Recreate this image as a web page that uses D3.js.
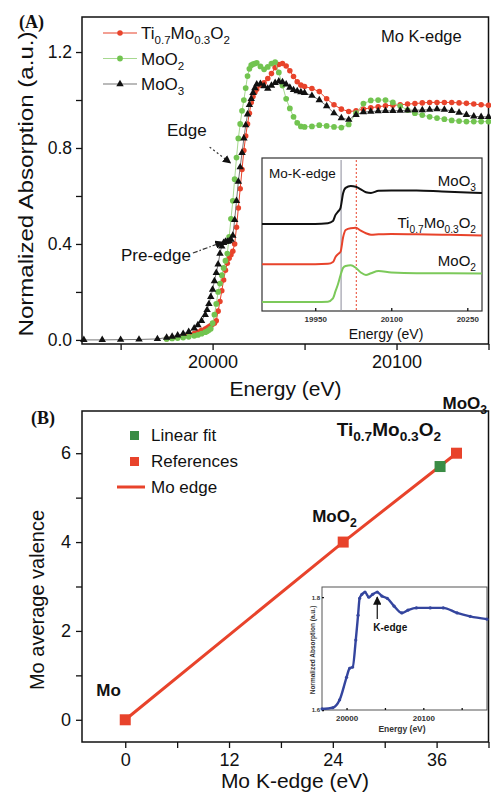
<!DOCTYPE html>
<html>
  <head>
    <meta charset="utf-8" />
    <title>Mo K-edge XANES</title>
    <script src="https://d3js.org/d3.v7.min.js"></script>
    <style>
      body { margin: 0; background: #fff; }
      svg { display: block; }
    </style>
  </head>
  <body>
    <svg id="chart" width="491" height="795"></svg>
    <script>
      // ---------- data : panel A (XANES spectra) ----------
      const energy = [19930, 19940, 19950, 19960, 19970,
        19975, 19978, 19981, 19984, 19987, 19990, 19992, 19994,
        19996, 19997, 19998, 19999, 20000, 20001, 20002, 20003, 20004, 20005, 20006, 20007,
        20008, 20009, 20010, 20011, 20012, 20013, 20014, 20015, 20016, 20017, 20018, 20019,
        20020, 20021, 20022, 20023, 20024,
        20026, 20028, 20030, 20032, 20034, 20036, 20038, 20040, 20042, 20044, 20046, 20048, 20050,
        20054, 20058, 20062, 20066, 20070, 20074, 20078, 20082, 20086, 20090, 20094, 20098,
        20102, 20106, 20110, 20114, 20118, 20122, 20126, 20130, 20134, 20138, 20142, 20146, 20150];

      const absTiMo = [null, null, null, null, null,
        0.005, 0.008, 0.011, 0.015, 0.020, 0.027, 0.033, 0.040,
        0.045, 0.050, 0.055, 0.060, 0.065, 0.070, 0.080, 0.120, 0.160, 0.205, 0.250, 0.290,
        0.320, 0.340, 0.355, 0.370, 0.400, 0.470, 0.550, 0.630, 0.710, 0.790, 0.850, 0.900,
        0.945, 0.990, 1.015, 1.032, 1.045,
        1.062, 1.072, 1.090, 1.110, 1.135, 1.148, 1.152, 1.142, 1.122, 1.098, 1.076, 1.062, 1.056,
        1.048, 1.035, 1.005, 0.980, 0.962, 0.952, 0.955, 0.962, 0.968, 0.972, 0.976, 0.978,
        0.980, 0.983, 0.985, 0.988, 0.990, 0.990, 0.990, 0.990, 0.988, 0.986, 0.983, 0.980, 0.978];

      const absMoO2 = [null, null, null, null, null,
        0.004, 0.006, 0.008, 0.010, 0.013, 0.017, 0.021, 0.026,
        0.032, 0.036, 0.041, 0.047, 0.070, 0.105, 0.150, 0.200, 0.235, 0.270, 0.300, 0.330,
        0.360, 0.430, 0.505, 0.580, 0.670, 0.760, 0.840, 0.900, 0.955, 1.000, 1.050, 1.100,
        1.130, 1.145, 1.150, 1.152, 1.155,
        1.140, 1.128, 1.138, 1.152, 1.158, 1.115, 1.060, 1.005, 0.965, 0.930, 0.905, 0.890, 0.888,
        0.890, 0.895, 0.892, 0.888, 0.885, 0.898, 0.945, 0.985, 0.998, 1.000, 1.000, 0.990,
        0.975, 0.958, 0.945, 0.937, 0.930, 0.925, 0.920, 0.915, 0.912, 0.910, 0.910, 0.910, 0.910];

      const absMoO3 = [0.000, 0.000, 0.001, 0.002, 0.004,
        0.010, 0.014, 0.019, 0.026, 0.034, 0.048, 0.062, 0.080,
        0.105, 0.125, 0.150, 0.180, 0.210, 0.245, 0.280, 0.315, 0.360, 0.390, 0.405, 0.410,
        0.410, 0.412, 0.418, 0.435, 0.500, 0.580, 0.660, 0.720, 0.780, 0.840, 0.895, 0.940,
        0.980, 1.005, 1.030, 1.050, 1.065,
        1.068, 1.058, 1.048, 1.060, 1.072, 1.078, 1.075, 1.065, 1.052, 1.042, 1.037, 1.033, 1.030,
        1.018, 1.000, 0.975, 0.945, 0.925, 0.918, 0.938, 0.950, 0.952, 0.954, 0.955, 0.955,
        0.956, 0.957, 0.958, 0.958, 0.960, 0.962, 0.960, 0.955, 0.948, 0.938, 0.932, 0.930, 0.930];

      const xTicksA = [20000, 20100];
      const xMinorA = [19950, 20050, 20150];
      const yTicksA = [0, 0.4, 0.8, 1.2];
      const yMinorA = [0.2, 0.6, 1.0];

      // inset of panel A (stacked, normalised spectra)
      const insetEnergy = [19845, 19900, 19950, 19975, 19985, 19990, 19995, 20000, 20005, 20010,
        20020, 20030, 20040, 20050, 20060, 20075, 20100, 20150, 20200, 20279];
      const insetMoO3 = [0, 0, 0, 0.02, 0.08, 0.25, 0.34, 0.45, 0.85, 1.0,
        1.05, 1.03, 0.96, 0.88, 0.86, 0.92, 0.93, 0.93, 0.90, 0.86];
      const insetTiMo = [0, 0, 0, 0.01, 0.06, 0.20, 0.28, 0.35, 0.75, 0.95,
        1.0, 1.01, 0.93, 0.86, 0.82, 0.83, 0.84, 0.83, 0.82, 0.80];
      const insetMoO2 = [0, 0, 0, 0.01, 0.10, 0.30, 0.50, 0.75, 0.95, 1.0,
        1.02, 0.95, 0.82, 0.75, 0.80, 0.86, 0.82, 0.80, 0.80, 0.79];
      const insetOffsets = [2.17, 1.05, 0]; // MoO3, Ti0.7Mo0.3O2, MoO2
      const insetTicks = [19950, 20100, 20250];
      const insetGuides = [20001, 20031];

      // ---------- data : panel B (valence vs edge shift) ----------
      const refNames = ["Mo", "MoO2", "MoO3"];
      const refShift = [0, 25.2, 38.3];
      const refValence = [0, 4, 6];
      const fitShift = [36.4];
      const fitValence = [5.7];
      const xTicksB = [0, 12, 24, 36];
      const xMinorB = [6, 18, 30, 42];
      const yTicksB = [0, 2, 4, 6];
      const yMinorB = [1, 3, 5];

      // inset of panel B (spectrum of Ti0.7Mo0.3O2)
      const specEnergy = [19968, 19982, 19991, 20000, 20004, 20008, 20012, 20015, 20017, 20020,
        20024, 20029, 20034, 20040, 20046, 20053, 20062, 20072, 20080, 20091,
        20109, 20126, 20144, 20161, 20183];
      const specAbs = [1.602, 1.604, 1.618, 1.658, 1.674, 1.676, 1.724, 1.768, 1.798, 1.805,
        1.809, 1.800, 1.805, 1.809, 1.802, 1.798, 1.784, 1.772, 1.777, 1.781,
        1.781, 1.781, 1.772, 1.766, 1.761];
      const specTicks = [20000, 20100];
      const specMinor = [20050, 20150];

      // chemical names as [element, subscript] pairs
      const nameTiMo = [["Ti", "0.7"], ["Mo", "0.3"], ["O", "2"]];
      const nameMoO2 = [["MoO", "2"]];
      const nameMoO3 = [["MoO", "3"]];
      const nameMo = [["Mo", ""]];

      // ---------- helpers ----------
      const SANS = "'Liberation Sans', Arial, Helvetica, sans-serif";
      const RED = "#e8432b";
      const GREEN = "#72c450";
      const BLACK = "#111";

      const svg = d3.select("#chart").attr("font-family", SANS);

      function addFormula(text, parts, size, subScale = 0.68) {
        const shift = size * 0.3;
        let down = 0;
        parts.forEach(([base, sub]) => {
          text.append("tspan").attr("dy", -down).attr("font-size", size).text(base);
          down = 0;
          if (sub) {
            text.append("tspan").attr("dy", shift).attr("font-size", size * subScale).text(sub);
            down = shift;
          }
        });
        return text;
      }

      function styleAxis(g, size) {
        g.select(".domain").remove();
        g.selectAll(".tick line").attr("stroke", BLACK).attr("stroke-width", 1.3);
        g.selectAll(".tick text").attr("fill", BLACK).attr("font-size", size).attr("font-family", SANS);
      }

      // arrowhead marker
      svg.append("defs").append("marker")
        .attr("id", "arrow")
        .attr("viewBox", "0 0 10 10")
        .attr("refX", 9).attr("refY", 5)
        .attr("markerWidth", 7).attr("markerHeight", 7)
        .attr("orient", "auto-start-reverse")
        .append("path").attr("d", "M0,0 L10,5 L0,10 Z").attr("fill", BLACK);

      // ======================= PANEL A =======================
      const xA = d3.scaleLinear().domain([19929, 20150]).range([82, 488.5]);
      const yA = d3.scaleLinear().domain([-0.017, 1.346]).range([344, 17]);
      const gA = svg.append("g");

      gA.append("g").attr("transform", `translate(0,${yA.range()[0]})`)
        .call(d3.axisBottom(xA).tickValues(xTicksA).tickFormat(d3.format("d")).tickSize(6).tickPadding(5))
        .call((g) => styleAxis(g, 18));
      gA.append("g").attr("transform", `translate(0,${yA.range()[0]})`)
        .call(d3.axisBottom(xA).tickValues(xMinorA).tickFormat("").tickSize(6))
        .call((g) => styleAxis(g, 18));
      gA.append("g").attr("transform", `translate(${xA.range()[0]},0)`)
        .call(d3.axisLeft(yA).tickValues(yTicksA).tickFormat(d3.format(".1f")).tickSize(6).tickPadding(4))
        .call((g) => styleAxis(g, 17.5));
      gA.append("g").attr("transform", `translate(${xA.range()[0]},0)`)
        .call(d3.axisLeft(yA).tickValues(yMinorA).tickFormat("").tickSize(6))
        .call((g) => styleAxis(g, 17.5));

      gA.append("rect")
        .attr("x", xA.range()[0]).attr("y", yA.range()[1])
        .attr("width", xA.range()[1] - xA.range()[0])
        .attr("height", yA.range()[0] - yA.range()[1])
        .attr("fill", "none").attr("stroke", BLACK).attr("stroke-width", 1.5);

      const seriesA = [
        { name: nameTiMo, values: absTiMo, color: RED, line: RED, symbol: d3.symbolCircle, size: 24 },
        { name: nameMoO2, values: absMoO2, color: GREEN, line: "#a6d88f", symbol: d3.symbolCircle, size: 26 },
        { name: nameMoO3, values: absMoO3, color: BLACK, line: "#777", symbol: d3.symbolTriangle, size: 24 },
      ];

      const lineA = d3.line().x((d) => xA(d[0])).y((d) => yA(d[1]));

      seriesA.forEach((s) => {
        const pts = energy.map((e, i) => [e, s.values[i]]).filter((d) => d[1] != null);
        gA.append("path").datum(pts)
          .attr("fill", "none").attr("stroke", s.line).attr("stroke-width", 1)
          .attr("d", lineA);
        gA.append("g").selectAll("path").data(pts).join("path")
          .attr("transform", (d) => `translate(${xA(d[0])},${yA(d[1])})`)
          .attr("d", d3.symbol(s.symbol, s.size))
          .attr("fill", s.color);
      });

      // legend A
      seriesA.forEach((s, i) => {
        const y = 33 + i * 25.5;
        gA.append("line").attr("x1", 103).attr("x2", 137).attr("y1", y).attr("y2", y)
          .attr("stroke", s.line).attr("stroke-width", 1.2);
        gA.append("path").attr("transform", `translate(120,${y})`)
          .attr("d", d3.symbol(s.symbol, s.size)).attr("fill", s.color);
        addFormula(gA.append("text").attr("x", 141).attr("y", y + 6).attr("fill", BLACK), s.name, 17);
      });

      gA.append("text").attr("x", 381).attr("y", 42).attr("font-size", 16.5)
        .attr("fill", BLACK).text("Mo K-edge");

      // annotations : arrow tips in data units
      const notes = [
        { text: "Edge", tip: [20009.8, 0.737], dx: -21, dy: -16, dash: "2,2.5", tx: -3, ty: -11 },
        { text: "Pre-edge", tip: [20005.6, 0.408], dx: -30, dy: 11, dash: "5,2,1.5,2", tx: -2, ty: 8 },
      ];
      notes.forEach((n) => {
        const x2 = xA(n.tip[0]), y2 = yA(n.tip[1]);
        const x1 = x2 + n.dx, y1 = y2 + n.dy;
        gA.append("line").attr("x1", x1).attr("y1", y1).attr("x2", x2).attr("y2", y2)
          .attr("stroke", "#333").attr("stroke-width", 1.2)
          .attr("stroke-dasharray", n.dash).attr("marker-end", "url(#arrow)");
        gA.append("text").attr("x", x1 + n.tx).attr("y", y1 + n.ty)
          .attr("text-anchor", "end").attr("font-size", 17).attr("fill", BLACK).text(n.text);
      });

      // axis titles A
      gA.append("text").attr("x", 285.5).attr("y", 396).attr("text-anchor", "middle")
        .attr("font-size", 21).attr("fill", BLACK).text("Energy (eV)");
      gA.append("text").attr("transform", "translate(33,184) rotate(-90)")
        .attr("text-anchor", "middle").attr("font-size", 21)
        .attr("textLength", 305).attr("lengthAdjust", "spacingAndGlyphs")
        .attr("fill", BLACK).text("Normalized Absorption (a.u.)");
      gA.append("text").attr("x", 19).attr("y", 28).attr("font-family", "'Liberation Serif', 'Times New Roman', serif")
        .attr("font-weight", "bold").attr("font-size", 18).attr("fill", BLACK).text("(A)");

      // ---------- inset A ----------
      const xIn = d3.scaleLinear().domain([19845, 20279]).range([262, 482]);
      const yIn = d3.scaleLinear().domain([-0.25, 4.0]).range([311, 158]);
      const gI = svg.append("g");
      gI.append("rect").attr("x", 262).attr("y", 158).attr("width", 220).attr("height", 153)
        .attr("fill", "#fff").attr("stroke", "#333").attr("stroke-width", 1.2);

      gI.append("g").attr("transform", `translate(0,${yIn.range()[0]})`)
        .call(d3.axisBottom(xIn).tickValues(insetTicks).tickFormat(d3.format("d")).tickSize(-3).tickPadding(5))
        .call((g) => styleAxis(g, 8))
        .call((g) => g.selectAll(".tick text").attr("font-weight", "bold").attr("fill", "#333"));

      gI.selectAll(".guide").data(insetGuides).join("line")
        .attr("x1", (d) => xIn(d)).attr("x2", (d) => xIn(d))
        .attr("y1", yIn.range()[1] + 2).attr("y2", yIn.range()[0])
        .attr("stroke", (d, i) => (i === 0 ? "#8a8a9a" : RED))
        .attr("stroke-width", 1)
        .attr("stroke-dasharray", (d, i) => (i === 0 ? null : "2,2"));

      const insetSeries = [
        { values: insetMoO3, color: BLACK, name: nameMoO3, offset: insetOffsets[0], label: 186 },
        { values: insetTiMo, color: RED, name: nameTiMo, offset: insetOffsets[1], label: 228 },
        { values: insetMoO2, color: "#7cc95a", name: nameMoO2, offset: insetOffsets[2], label: 266 },
      ];
      const lineIn = d3.line().x((d) => xIn(d[0])).y((d) => yIn(d[1])).curve(d3.curveMonotoneX);
      insetSeries.forEach((s) => {
        const pts = insetEnergy.map((e, i) => [e, s.values[i] + s.offset]);
        gI.append("path").datum(pts).attr("fill", "none").attr("stroke", s.color)
          .attr("stroke-width", 2).attr("d", lineIn);
        addFormula(gI.append("text").attr("x", 476).attr("y", s.label)
          .attr("text-anchor", "end").attr("fill", BLACK), s.name, 15);
      });
      gI.append("text").attr("x", 269).attr("y", 178).attr("font-size", 13.5).attr("fill", BLACK)
        .text("Mo-K-edge");
      gI.append("text").attr("x", 386).attr("y", 339).attr("text-anchor", "middle")
        .attr("font-size", 14).attr("fill", BLACK).text("Energy (eV)");

      // ======================= PANEL B =======================
      const xB = d3.scaleLinear().domain([-5, 42]).range([82, 488.5]);
      const yB = d3.scaleLinear().domain([-0.5, 6.95]).range([742, 411]);
      const gB = svg.append("g");

      gB.append("g").attr("transform", `translate(0,${yB.range()[0]})`)
        .call(d3.axisBottom(xB).tickValues(xTicksB).tickFormat(d3.format("d")).tickSize(6).tickPadding(5))
        .call((g) => styleAxis(g, 18));
      gB.append("g").attr("transform", `translate(0,${yB.range()[0]})`)
        .call(d3.axisBottom(xB).tickValues(xMinorB).tickFormat("").tickSize(6))
        .call((g) => styleAxis(g, 18));
      gB.append("g").attr("transform", `translate(${xB.range()[0]},0)`)
        .call(d3.axisLeft(yB).tickValues(yTicksB).tickFormat(d3.format("d")).tickSize(6).tickPadding(5))
        .call((g) => styleAxis(g, 18));
      gB.append("g").attr("transform", `translate(${xB.range()[0]},0)`)
        .call(d3.axisLeft(yB).tickValues(yMinorB).tickFormat("").tickSize(6))
        .call((g) => styleAxis(g, 18));

      gB.append("rect")
        .attr("x", xB.range()[0]).attr("y", yB.range()[1])
        .attr("width", xB.range()[1] - xB.range()[0])
        .attr("height", yB.range()[0] - yB.range()[1])
        .attr("fill", "none").attr("stroke", BLACK).attr("stroke-width", 1.5);

      const refs = refNames.map((n, i) => ({ name: n, x: refShift[i], y: refValence[i] }));
      const lineB = d3.line().x((d) => xB(d.x)).y((d) => yB(d.y));
      gB.append("path").datum(refs).attr("fill", "none").attr("stroke", RED)
        .attr("stroke-width", 3).attr("d", lineB);

      const SQ = 11;
      gB.selectAll(".ref").data(refs).join("rect")
        .attr("x", (d) => xB(d.x) - SQ / 2).attr("y", (d) => yB(d.y) - SQ / 2)
        .attr("width", SQ).attr("height", SQ).attr("fill", RED);
      gB.selectAll(".fit").data(fitShift).join("rect")
        .attr("x", (d) => xB(d) - SQ / 2).attr("y", (d, i) => yB(fitValence[i]) - SQ / 2)
        .attr("width", SQ).attr("height", SQ).attr("fill", "#3a8c45");

      // point labels (offsets in px from the point)
      const labelsB = [
        { name: nameMo, x: refShift[0], y: refValence[0], dx: -29, dy: -24, anchor: "start", size: 17 },
        { name: nameMoO2, x: refShift[1], y: refValence[1], dx: -31, dy: -20, anchor: "start", size: 17 },
        { name: nameMoO3, x: refShift[2], y: refValence[2], dx: -14, dy: -44, anchor: "start", size: 17 },
        { name: nameTiMo, x: fitShift[0], y: fitValence[0], dx: 1, dy: -31, anchor: "end", size: 19 },
      ];
      labelsB.forEach((l) => {
        addFormula(gB.append("text").attr("x", xB(l.x) + l.dx).attr("y", yB(l.y) + l.dy)
          .attr("text-anchor", l.anchor).attr("font-weight", "bold").attr("fill", BLACK), l.name, l.size, 0.72);
      });

      // legend B
      const legendB = [
        { label: "Linear fit", color: "#3a8c45", kind: "square" },
        { label: "References", color: RED, kind: "square" },
        { label: "Mo edge", color: RED, kind: "line" },
      ];
      legendB.forEach((d, i) => {
        const y = 435 + i * 26;
        if (d.kind === "square") {
          gB.append("rect").attr("x", 130).attr("y", y - 4).attr("width", 9).attr("height", 9).attr("fill", d.color);
        } else {
          gB.append("line").attr("x1", 117).attr("x2", 145).attr("y1", y).attr("y2", y)
            .attr("stroke", d.color).attr("stroke-width", 3);
        }
        gB.append("text").attr("x", 151).attr("y", y + 6).attr("font-size", 17)
          .attr("fill", BLACK).text(d.label);
      });

      gB.append("text").attr("x", 295).attr("y", 788).attr("text-anchor", "middle")
        .attr("font-size", 21).attr("fill", BLACK).text("Mo K-edge (eV)");
      gB.append("text").attr("transform", "translate(44,600) rotate(-90)")
        .attr("text-anchor", "middle").attr("font-size", 20).attr("fill", BLACK)
        .text("Mo average valence");
      gB.append("text").attr("x", 31).attr("y", 424).attr("font-family", "'Liberation Serif', 'Times New Roman', serif")
        .attr("font-weight", "bold").attr("font-size", 18).attr("fill", BLACK).text("(B)");

      // ---------- inset B ----------
      const xS = d3.scaleLinear().domain([19968, 20183]).range([322, 487]);
      const yS = d3.scaleLinear().domain([1.6, 1.818]).range([710, 587]);
      const gS = svg.append("g");
      gS.append("rect").attr("x", 322).attr("y", 587).attr("width", 165).attr("height", 123)
        .attr("fill", "#fff").attr("stroke", "#555").attr("stroke-width", 1);

      gS.append("g").attr("transform", `translate(0,${yS.range()[0]})`)
        .call(d3.axisBottom(xS).tickValues(specTicks).tickFormat(d3.format("d")).tickSize(-2).tickPadding(5))
        .call((g) => styleAxis(g, 8))
        .call((g) => g.selectAll(".tick text").attr("font-weight", "bold").attr("fill", "#333"));
      gS.append("g").attr("transform", `translate(0,${yS.range()[0]})`)
        .call(d3.axisBottom(xS).tickValues(specMinor).tickFormat("").tickSize(-2))
        .call((g) => styleAxis(g, 8));
      gS.append("g").attr("transform", `translate(${xS.range()[0]},0)`)
        .call(d3.axisLeft(yS).tickValues([1.6, 1.8]).tickFormat(d3.format(".1f")).tickSize(-2).tickPadding(2))
        .call((g) => styleAxis(g, 6))
        .call((g) => g.selectAll(".tick text").attr("font-weight", "bold").attr("fill", "#333"));

      const specPts = specEnergy.map((e, i) => [e, specAbs[i]]);
      const lineS = d3.line().x((d) => xS(d[0])).y((d) => yS(d[1])).curve(d3.curveMonotoneX);
      gS.append("path").datum(specPts).attr("fill", "none").attr("stroke", "#34459e")
        .attr("stroke-width", 2.4).attr("d", lineS);
      gS.append("g").selectAll("circle").data(specPts).join("circle")
        .attr("cx", (d) => xS(d[0])).attr("cy", (d) => yS(d[1])).attr("r", 1.6).attr("fill", "#34459e");

      // K-edge marker (tip at the second maximum)
      const kx = xS(specEnergy[13]), ky = yS(specAbs[13]);
      gS.append("line").attr("x1", kx).attr("x2", kx).attr("y1", ky + 27).attr("y2", ky + 5)
        .attr("stroke", BLACK).attr("stroke-width", 1.2).attr("marker-end", "url(#arrow)");
      gS.append("text").attr("x", kx + 13).attr("y", ky + 39).attr("text-anchor", "middle")
        .attr("font-size", 10).attr("font-weight", "bold").attr("fill", BLACK).text("K-edge");

      gS.append("text").attr("x", 402).attr("y", 732).attr("text-anchor", "middle")
        .attr("font-size", 8.5).attr("font-weight", "bold").attr("fill", "#333").text("Energy (eV)");
      gS.append("text").attr("transform", "translate(315,650) rotate(-90)")
        .attr("text-anchor", "middle").attr("font-size", 6.5).attr("font-weight", "bold")
        .attr("fill", "#333").text("Normalized Absorption (a.u.)");
    </script>
  </body>
</html>
